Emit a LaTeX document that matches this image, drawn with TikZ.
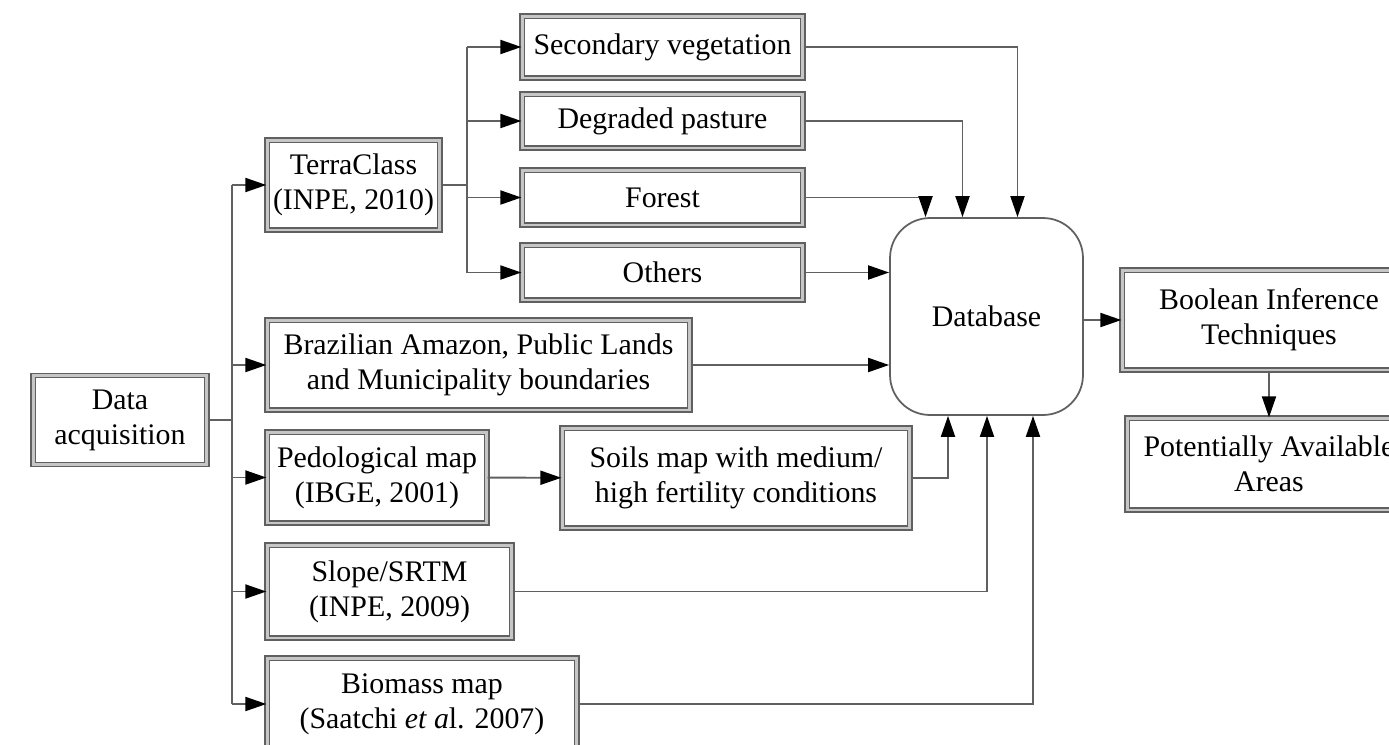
\documentclass[tikz,border=0pt]{standalone}
\usepackage{fontspec}
\setmainfont{Liberation Serif}
\usetikzlibrary{arrows.meta}

\begin{document}
\begin{tikzpicture}[x=0.02cm,y=-0.02cm]
        \tikzset{box/.style={draw=gray!75!black,line width=0.75pt,double=gray!45,double distance=1.7pt,
            fill=white,align=center,inner sep=0pt,text=black,font=\fontsize{17}{20}\selectfont}}
        \tikzset{dbase/.style={draw=gray!75!black,line width=1pt,rounded corners=0.8cm,
            minimum width=3.86cm,minimum height=3.94cm,text=black,font=\fontsize{17}{20}\selectfont}}
        \tikzset{line/.style={draw=gray!75!black,line width=1.1pt}}
        \tikzset{vec/.style={line,-{Triangle[length=12pt,width=8pt,color=black]}}}

        \clip (0,0) rectangle (1389,744);
        \fill[white] (0,0) rectangle (1389,744);

        \node[box,minimum width=3.48cm,minimum height=1.78cm] (da) at (120,420) {Data\\acquisition};

        \node[box,minimum width=3.46cm,minimum height=1.8cm] (terra) at (353.5,185) {TerraClass\\(INPE, 2010)};
        \node[box,minimum width=8.46cm,minimum height=1.8cm] (bra) at (478.5,365) {Brazilian Amazon, Public Lands\\and Municipality boundaries};
        \node[box,minimum width=4.4cm,minimum height=1.82cm] (ped) at (377,477.5) {Pedological map\\(IBGE, 2001)};
        \node[box,minimum width=4.9cm,minimum height=1.86cm] (slope) at (389.5,591.5) {Slope/SRTM\\(INPE, 2009)};
        \node[box,minimum width=6.2cm,minimum height=1.84cm] (bio) at (422,704) {Biomass map\\(Saatchi \textit{et a}l. 2007)};

        \node[box,minimum width=5.62cm,minimum height=1.24cm] (sec) at (662.5,47) {Secondary vegetation};
        \node[box,minimum width=5.62cm,minimum height=1.08cm] (deg) at (662.5,121) {Degraded pasture};
        \node[box,minimum width=5.62cm,minimum height=1.1cm] (for) at (662.5,197.5) {Forest};
        \node[box,minimum width=5.62cm,minimum height=1.1cm] (oth) at (662.5,272.5) {Others};

        \node[box,minimum width=6.96cm,minimum height=2cm] (soil) at (736,478) {Soils map with medium/\\high fertility conditions};

        \node[dbase] (db) at (986.5,316.5) {Database};

        \node[box,minimum width=5.88cm,minimum height=2cm] (bool) at (1269,320) {Boolean Inference\\Techniques};
        \node[box,minimum width=5.68cm,minimum height=1.84cm] (paa) at (1269,464) {Potentially Available\\Areas};

        \coordinate (tr) at (232,420);
        \coordinate (br) at (467,185);

        \draw[line] (da.east) -- (tr);
        \draw[line] (tr |- terra) -- (tr |- bio);
        \foreach \n in {terra,bra,ped,slope,bio} {
            \draw[vec] (tr |- \n) -- (\n.west);
        }

        \draw[line] (terra.east) -- (br);
        \draw[line] (br |- sec) -- (br |- oth);
        \foreach \n in {sec,deg,for,oth} {
            \draw[vec] (br |- \n) -- (\n.west);
        }

        \draw[vec] (sec.east) -| ([xshift=0.62cm]db.north);
        \draw[vec] (deg.east) -| ([xshift=-0.48cm]db.north);
        \draw[vec] (for.east) -| ([xshift=-1.22cm]db.north);
        \draw[vec] (oth.east) -- (db.west |- oth);
        \draw[vec] (bra.east) -- (db.west |- bra);

        \draw[vec] (ped) -- (soil);
        \draw[vec] (soil.east) -| ([xshift=-0.77cm]db.south);
        \draw[vec] (slope.east) -| ([xshift=0.01cm]db.south);
        \draw[vec] (bio.east) -| ([xshift=0.93cm]db.south);

        \draw[vec] (db.east |- bool) -- (bool.west);
        \draw[vec] (bool) -- (paa);
    \end{tikzpicture}
\end{document}
